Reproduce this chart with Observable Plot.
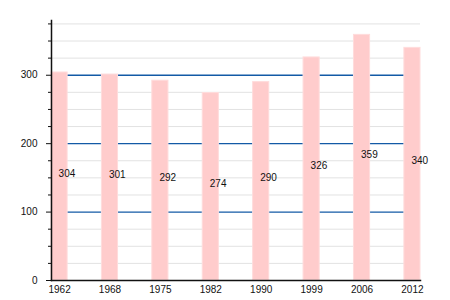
<!DOCTYPE html>
<html>
<head>
<meta charset="utf-8">
<script src="https://cdn.jsdelivr.net/npm/d3@7"></script>
<script src="https://cdn.jsdelivr.net/npm/@observablehq/plot@0.6"></script>
<style>
  html, body { margin: 0; padding: 0; background: #fff; }
  #chart svg { display: block; }
</style>
</head>
<body>
<div id="chart"></div>
<script>
const years = ["1962", "1968", "1975", "1982", "1990", "1999", "2006", "2012"];
const population = [304, 301, 292, 274, 290, 326, 359, 340];
const majorTicks = [0, 100, 200, 300];
const minorTicks = [25, 50, 75, 125, 150, 175, 225, 250, 275, 325, 350, 375];

const data = years.map((y, i) => ({year: y, value: population[i]}));

const chart = Plot.plot({
  width: 450,
  height: 300,
  marginLeft: 51,
  marginRight: 30,
  marginTop: 20,
  marginBottom: 20,
  style: {fontFamily: "Liberation Sans, Arial, sans-serif", fontSize: "10px", color: "#111", background: "#fff"},
  x: {domain: years, paddingInner: 0.68, paddingOuter: 0, align: 0.5, round: false, label: null},
  y: {domain: [0, 380], label: null},
  marks: [
    Plot.ruleY(minorTicks, {stroke: "#e2e2e2", strokeWidth: 1}),
    Plot.ruleY([100, 200, 300], {stroke: "#135aa6", strokeWidth: 1.3}),
    Plot.barY(data, {x: "year", y: "value", fill: "#ffcccc", stroke: "#ffdcdc", strokeWidth: 1}),
    Plot.text(data, {x: "year", y: d => d.value / 2, text: d => String(d.value), textAnchor: "start", dx: -1, dy: -3, fill: "#111", fontSize: 10}),
    Plot.axisY({ticks: minorTicks, tickSize: 3, text: null, stroke: "#111"}),
    Plot.axisY({ticks: majorTicks, tickSize: 5, tickPadding: 9, stroke: "#111", fill: "#111", fontSize: 10}),
    Plot.axisX({tickSize: 0, tickPadding: 5, fill: "#111", fontSize: 10}),
    Plot.frame({anchor: "left", stroke: "#111", strokeWidth: 1.5}),
    Plot.frame({anchor: "bottom", stroke: "#111", strokeWidth: 1.5})
  ]
});
document.getElementById("chart").appendChild(chart);
</script>
</body>
</html>
